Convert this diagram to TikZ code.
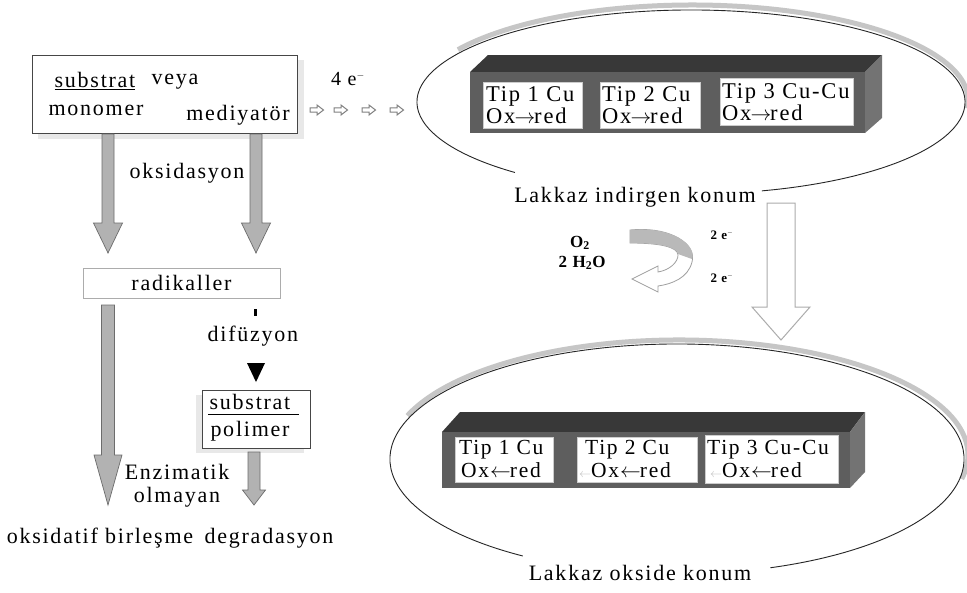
\documentclass[tikz,border=0pt]{standalone}
\usepackage{fontspec}
\setmainfont{Liberation Serif}[LetterSpace=8]
\usetikzlibrary{calc}
\newcommand{\fatdown}[7][]{%
  \draw[#1] (#2-#5,-#3) -- (#2+#5,-#3) -- (#2+#5,-#4) -- (#2+#6,-#4) -- (#2,-#7) -- (#2-#6,-#4) -- (#2-#5,-#4) -- cycle;}
\newcommand{\smallright}[2]{%
  \draw[black!50, fill=white, line width=1pt] (#1-7,-#2+2.2) -- (#1,-#2+2.2) -- (#1,-#2+5) -- (#1+6.5,-#2) -- (#1,-#2-5) -- (#1,-#2-2.2) -- (#1-7,-#2-2.2) -- cycle;}
\newcommand{\ra}{\kern-1pt$\rightarrow$\kern-1pt}
\newcommand{\la}{\kern1pt$\leftarrow$\kern-1pt}
\newcommand{\gla}{{\color{gray!50}\fontsize{12}{12}\selectfont$\leftarrow$}}
\begin{document}
\begin{tikzpicture}[x=1pt,y=1pt,
  txt/.style={inner sep=0pt, font=\fontsize{22}{24}\selectfont},
  btxt/.style={inner sep=0pt, anchor=west, align=left, font=\fontsize{22.5}{22}\selectfont},
  ctxt/.style={inner sep=0pt, anchor=west, align=left, font=\fontsize{21.5}{22.5}\selectfont},
  small/.style={inner sep=0pt, font=\bfseries\fontsize{17}{18}\selectfont},
  tiny/.style={inner sep=0pt, font=\bfseries\fontsize{13}{14}\selectfont},
  graybar/.style={fill=gray!60, draw=gray!85!black, line width=0.7pt},
  topc/.style={fill=black!78},
  frontc/.style={fill=black!63},
  sidec/.style={fill=black!55},
  inbox/.style={fill=white, draw=gray!40, line width=0.4pt},
  ell/.style={line width=0.9pt, black!85},
  band/.style={gray!45, line width=5pt}
]
\fill[white] (0,0) rectangle (967,-592);
\useasboundingbox (0,0) rectangle (967,-592);

% ---------- left column ----------
\fill[gray!18] (38,-60) rectangle (304,-139);
\node[draw=gray!55!black, fill=white, minimum width=265pt, minimum height=78pt, inner sep=0pt, line width=0.8pt] (src) at (164.5,-94) {};
\node[txt] (sub1) at (95,-81) {\underline{substrat}};
\node[txt] (veya) at (175,-82) {veya};
\node[txt] (mono) at (96,-110) {monomer};
\node[txt] (medi) at (238,-115) {mediyatör};

\node[inner sep=0pt, font=\fontsize{20}{22}\selectfont] (fe) at (348,-79) {4 e$^{\scriptscriptstyle -}$};
\smallright{317}{110}
\smallright{341}{110}
\smallright{369}{110}
\smallright{397}{110}

\fatdown[graybar]{108}{134}{223}{6}{14.5}{253}
\fatdown[graybar]{256}{134}{223}{6}{14.5}{253}
\node[txt] (oks) at (187,-173) {oksidasyon};

\node[draw=gray!65, line width=0.8pt, minimum width=197pt, minimum height=30pt, txt] (rad) at (181.5,-283) {radikaller};

\fatdown[graybar]{108}{305}{455}{6.5}{14}{505}
\fill (254,-309) rectangle (257,-316);
\node[txt] (dif) at (253,-336) {difüzyon};
\fill (247,-363) -- (265,-363) -- (256,-382) -- cycle;

\fill[gray!18] (196,-395) rectangle (304,-453);
\node[draw=gray!55!black, fill=white, line width=0.8pt, minimum width=108pt, minimum height=58pt, inner sep=0pt] (pol) at (256,-419) {};
\node[txt] (sub2) at (250,-402) {substrat};
\draw[line width=0.9pt] (208,-414) -- (299,-414);
\node[txt] (polt) at (250,-431) {polimer};
\fatdown[graybar]{254}{452}{490}{6}{11.5}{505}

\node[txt] (enz) at (177,-472) {Enzimatik};
\node[txt] (olm) at (177,-497) {olmayan};
\node[txt] (ob) at (100,-538) {oksidatif birleşme};
\node[txt] (deg) at (269,-538) {degradasyon};

% ---------- top ellipse (reduced) ----------
\draw[band] (692,-100) ++(148:276 and 95) arc[start angle=148, end angle=-5, x radius=276, y radius=95];
\draw[ell] (691,-102) ++(285:274 and 92) arc[start angle=285, end angle=590, x radius=274, y radius=92];

\fill[topc] (470,-72) -- (488,-55) -- (882,-55) -- (865,-72) -- cycle;
\fill[frontc] (470,-72) rectangle (865,-133);
\fill[sidec] (865,-72) -- (882,-55) -- (882,-118) -- (865,-133) -- cycle;
\filldraw[inbox] (483,-82) rectangle (582,-128);
\filldraw[inbox] (600,-82) rectangle (700,-128);
\filldraw[inbox] (720,-78) rectangle (853,-125);
\node[btxt] (a) at (486,-105.5) {Tip 1 Cu\\Ox\ra red};
\node[btxt] (b) at (602,-105.5) {Tip 2 Cu\\Ox\ra red};
\node[btxt] (c) at (722,-102) {Tip 3 Cu-Cu\\Ox\ra red};
\node[txt] (lk1) at (635,-197) {Lakkaz indirgen konum};

% ---------- O2 / H2O cycle ----------
\node[small] (o2) at (580,-243) {O\textsubscript{2}};
\node[small] (h2o) at (582,-263) {2 H\textsubscript{2}O};
\node[tiny] (e1) at (722,-235) {2 e$^{\scriptscriptstyle -}$};
\node[tiny] (e2) at (722,-278) {2 e$^{\scriptscriptstyle -}$};
\filldraw[fill=white, draw=gray!75, line width=0.8pt]
  (630,-230) .. controls (672,-226) and (697,-245) .. (692,-262)
  .. controls (688,-278) and (672,-284) .. (658,-286)
  -- (658,-292) -- (632,-279) -- (658,-266) -- (658,-272)
  .. controls (670,-270) and (678,-262) .. (678,-255)
  .. controls (678,-247) and (660,-243) .. (630,-243) -- cycle;
\fill[gray!55]
  (630,-230) .. controls (672,-226) and (697,-245) .. (692,-259)
  -- (678,-254) .. controls (677,-247) and (660,-243) .. (630,-243) -- cycle;

% ---------- big hollow arrow ----------
\filldraw[fill=white, draw=gray!65, line width=1pt]
  (767,-203) -- (795,-203) -- (795,-307) -- (810,-307) -- (781,-340) -- (752,-307) -- (767,-307) -- cycle;

% ---------- bottom ellipse (oxidised) ----------
\draw[band] (679,-455) ++(160:289 and 115) arc[start angle=160, end angle=-12, x radius=289, y radius=115];
\draw[ell] (677,-459) ++(289:287 and 115) arc[start angle=289, end angle=597.5, x radius=287, y radius=115];

\fill[topc] (442,-432) -- (460,-412) -- (865,-412) -- (850,-432) -- cycle;
\fill[frontc] (442,-432) rectangle (850,-488);
\fill[sidec] (850,-432) -- (865,-412) -- (865,-472) -- (850,-488) -- cycle;
\filldraw[inbox] (455,-437) rectangle (553,-482);
\filldraw[inbox] (577,-437) rectangle (697,-482);
\filldraw[inbox] (705,-435) rectangle (838,-483);
\node[ctxt] (d) at (459,-459) {Tip 1 Cu\\\hspace{2pt}Ox\la red};
\node[ctxt] (f) at (579,-459) {\hspace{6pt}Tip 2 Cu\\\gla Ox\la red};
\node[ctxt] (g) at (707,-459) {Tip 3 Cu-Cu\\\hspace{3pt}\gla Ox\la red};
\node[txt] (lk2) at (640,-573) {Lakkaz okside konum};
\end{tikzpicture}
\end{document}
